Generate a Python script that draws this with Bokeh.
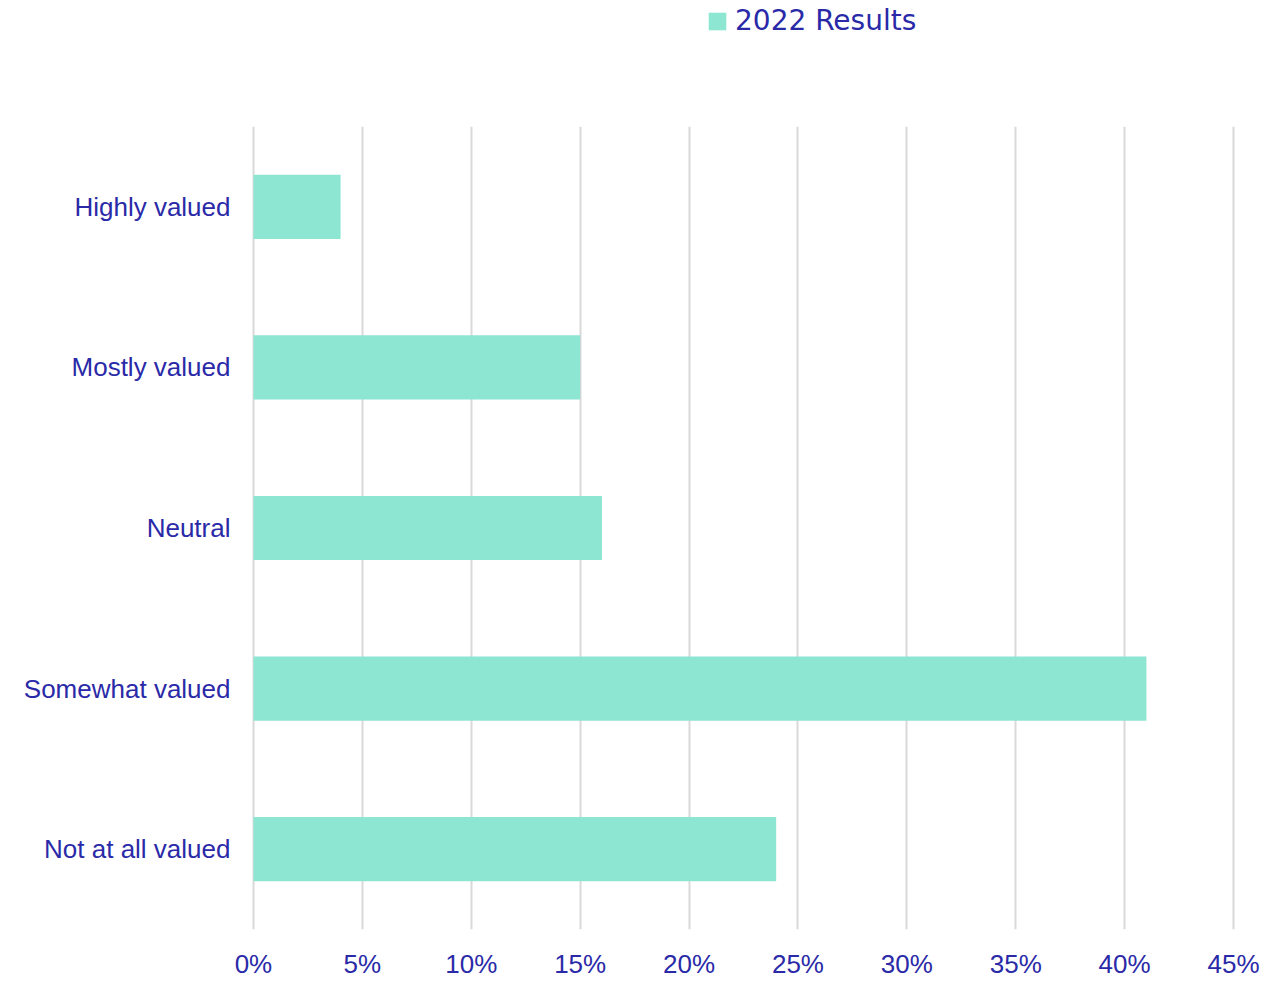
from bokeh.plotting import figure
from bokeh.layouts import column
from bokeh.models import Legend, LegendItem, NumeralTickFormatter, FixedTicker, Range1d
from bokeh.embed import file_html
from bokeh.resources import INLINE

categories = ["Highly valued", "Mostly valued", "Neutral", "Somewhat valued", "Not at all valued"]
values = [0.04, 0.15, 0.16, 0.41, 0.24]
ticks = [0, 0.05, 0.10, 0.15, 0.20, 0.25, 0.30, 0.35, 0.40, 0.45]
series_name = "2022 Results"

BAR = "#8CE6D2"
TXT = "#2A2AA8"
GRID = "#D9D9D9"

# --- legend strip (top) ---
pl = figure(
    width=1286, height=126,
    x_range=Range1d(0, 1), y_range=Range1d(0, 1),
    x_axis_type=None, y_axis_type=None,
    output_backend="svg", toolbar_location=None,
    min_border_left=251, min_border_right=51, min_border_top=0, min_border_bottom=0,
)
pl.outline_line_color = None
pl.xgrid.visible = False
pl.ygrid.visible = False
# legend swatch carrier, kept outside the strip's visible range
swatch = pl.hbar(y=[-5], left=[0], right=[0], height=0.4, color=BAR, line_color=None)
legend = Legend(
    items=[LegendItem(label=series_name, renderers=[swatch])],
    location=(455, 89),
    orientation="horizontal",
    glyph_width=22, glyph_height=22,
    label_standoff=7,
    label_text_font="DejaVu Sans",
    label_text_font_size="28px",
    label_text_color=TXT,
    padding=0, margin=0, spacing=0,
    border_line_color=None,
    background_fill_alpha=0,
)
pl.add_layout(legend, "center")

# --- main chart ---
p = figure(
    width=1286, height=855,
    y_range=list(reversed(categories)),
    x_range=Range1d(-0.0009, 0.4509),
    output_backend="svg", toolbar_location=None,
    min_border_left=251, min_border_right=51,
    min_border_top=0, min_border_bottom=48,
)
p.outline_line_color = None
p.background_fill_color = "white"

p.hbar(y=categories, right=values, left=0, height=0.40, color=BAR, line_color=None)

p.xaxis.ticker = FixedTicker(ticks=ticks)
p.xaxis.formatter = NumeralTickFormatter(format="0%")
for ax in (p.xaxis, p.yaxis):
    ax.axis_line_color = None
    ax.major_tick_line_color = None
    ax.minor_tick_line_color = None
    ax.major_tick_out = 0
    ax.major_tick_in = 0
    ax.minor_tick_out = 0
    ax.minor_tick_in = 0
    ax.major_label_text_color = TXT
    ax.major_label_text_font = "Liberation Sans"
    ax.major_label_text_font_size = "26px"
p.xaxis.major_label_standoff = 19
p.yaxis.major_label_standoff = 21

p.xgrid.grid_line_color = GRID
p.xgrid.grid_line_width = 2
p.ygrid.grid_line_color = None

layout = column(pl, p, spacing=0)
open("out.html", "w").write(file_html(layout, INLINE))
